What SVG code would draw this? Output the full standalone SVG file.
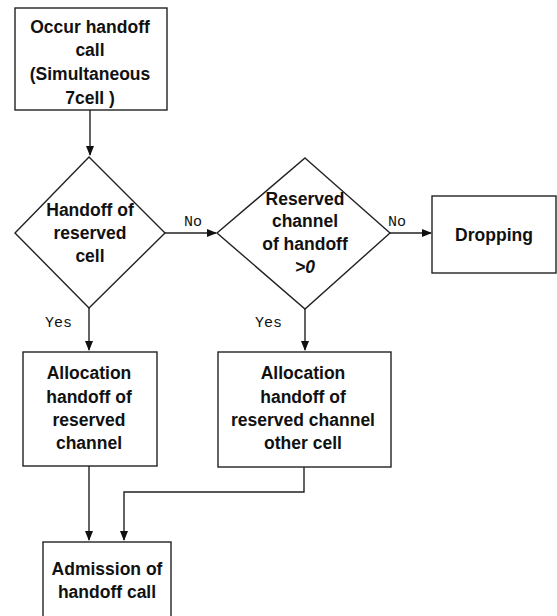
<svg xmlns="http://www.w3.org/2000/svg" width="557" height="616" viewBox="0 0 557 616">
<defs>
<marker id="ah" markerWidth="10" markerHeight="8" refX="9" refY="4" orient="auto" markerUnits="userSpaceOnUse">
<path d="M0,0 L10,4 L0,8 Z" fill="#111"/>
</marker>
</defs>
<style>
.shape{fill:#fff;stroke:#222;stroke-width:1.4}
.t{font-family:"Liberation Sans",Arial,sans-serif;font-weight:bold;font-size:17.5px;fill:#111;text-anchor:middle}
.lbl{font-family:"Liberation Mono","Courier New",monospace;font-size:15px;fill:#111}
.c{fill:none;stroke:#222;stroke-width:1.4;marker-end:url(#ah)}
.cn{fill:none;stroke:#222;stroke-width:1.4}
</style>
<rect width="557" height="616" fill="#fff"/>
<g id="connectors">
<path class="c" d="M90,110 V155"/>
<path class="c" d="M165,233 H216"/>
<path class="c" d="M390,233 H431"/>
<path class="c" d="M89,308 V350"/>
<path class="c" d="M305,309 V350"/>
<path class="c" d="M89,466 V540"/>
<path class="c" d="M304,467 V492 H124 V540"/>
<text class="lbl" x="184" y="226">No</text>
<text class="lbl" x="388" y="226">No</text>
<text class="lbl" x="45" y="327">Yes</text>
<text class="lbl" x="255" y="327">Yes</text>
</g>
<g id="start">
<rect class="shape" x="15" y="8" width="152" height="102"/>
<text class="t" x="90" y="33">Occur handoff</text>
<text class="t" x="90" y="56">call</text>
<text class="t" x="90" y="80">(Simultaneous</text>
<text class="t" x="90" y="104">7cell )</text>
</g>
<g id="decision1">
<polygon class="shape" points="89,157 165,233 89,308 15,233"/>
<text class="t" x="90" y="216">Handoff of</text>
<text class="t" x="90" y="239">reserved</text>
<text class="t" x="90" y="262">cell</text>
</g>
<g id="decision2">
<polygon class="shape" points="305,158 390,233 305,309 217,233"/>
<text class="t" x="305" y="205">Reserved</text>
<text class="t" x="305" y="227">channel</text>
<text class="t" x="305" y="250">of handoff</text>
<text class="t" x="305" y="273" font-style="italic">&gt;0</text>
</g>
<g id="dropping">
<rect class="shape" x="432" y="196" width="124" height="77"/>
<text class="t" x="494" y="241">Dropping</text>
</g>
<g id="alloc1">
<rect class="shape" x="23" y="352" width="134" height="114"/>
<text class="t" x="89" y="379">Allocation</text>
<text class="t" x="89" y="403">handoff of</text>
<text class="t" x="89" y="426">reserved</text>
<text class="t" x="89" y="449">channel</text>
</g>
<g id="alloc2">
<rect class="shape" x="218" y="352" width="173" height="115"/>
<text class="t" x="303" y="379">Allocation</text>
<text class="t" x="303" y="403">handoff of</text>
<text class="t" x="303" y="426">reserved channel</text>
<text class="t" x="303" y="449">other cell</text>
</g>
<g id="admission">
<rect class="shape" x="43" y="542" width="128" height="80"/>
<text class="t" x="107" y="575">Admission of</text>
<text class="t" x="107" y="598">handoff call</text>
</g>
</svg>
